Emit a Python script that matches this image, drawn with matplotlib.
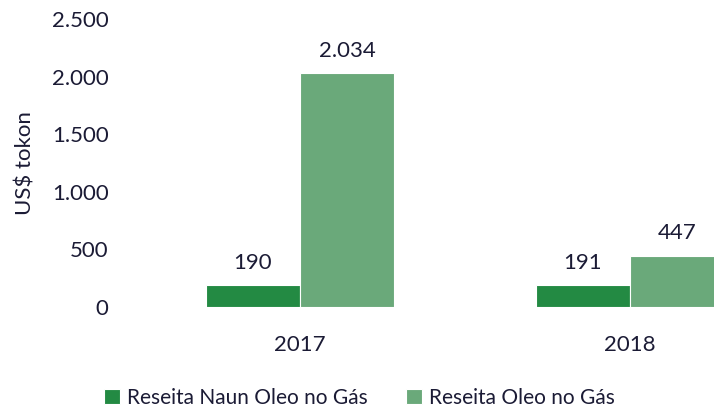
import matplotlib
matplotlib.use("Agg")
import matplotlib.pyplot as plt
import numpy as np

years = ["2017", "2018"]
naun_oleo = [190, 191]
oleo = [2034, 447]
series_names = ["Reseita Naun Oleo no Gás", "Reseita Oleo no Gás"]
yticks = [0, 500, 1000, 1500, 2000, 2500]

c_dark = "#238a43"
c_light = "#6aa97a"
txt = "#1b1b35"

plt.rcParams['font.family'] = ['Lato', 'DejaVu Sans']

fig = plt.figure(figsize=(7.14, 4.08), dpi=100)
ax = fig.add_axes([135/714, 1 - 307/408, 1 - 135/714, (307 - 19.4)/408])

x = np.arange(len(years))
w = 0.285
b1 = ax.bar(x - w/2, naun_oleo, w, color=c_dark, edgecolor="white", linewidth=0.8, label=series_names[0])
b2 = ax.bar(x + w/2, oleo, w, color=c_light, edgecolor="white", linewidth=0.8, label=series_names[1])

def fmt(v):
    return f"{v:,}".replace(",", ".")

for bars, vals in ((b1, naun_oleo), (b2, oleo)):
    for rect, v in zip(bars, vals):
        ax.annotate(fmt(v), (rect.get_x() + rect.get_width()/2, rect.get_height()),
                    xytext=(0, 9), textcoords="offset points", ha="center", va="bottom",
                    fontsize=16, color=txt)

ax.set_xlim(-0.5, (714 - 300)/330)
ax.set_ylim(0, 2500)
ax.set_yticks(yticks)
ax.set_yticklabels([fmt(v) for v in yticks])
ax.set_xticks(x)
ax.set_xticklabels(years)
ax.tick_params(axis="both", length=0, labelsize=16, colors=txt)
ax.tick_params(axis="x", pad=20)
ax.tick_params(axis="y", pad=19)
for s in ax.spines.values():
    s.set_visible(False)
ax.set_ylabel("US$ tokon", fontsize=16, color=txt, labelpad=12)

leg = fig.legend(handles=[b1, b2], labels=series_names, loc="lower center",
                 bbox_to_anchor=(0.5035, -0.045), ncol=2, frameon=False, fontsize=15,
                 handlelength=0.75, handleheight=0.75, handletextpad=0.35, columnspacing=1.85)
for t in leg.get_texts():
    t.set_color(txt)

fig.savefig("out.png", dpi=100)
